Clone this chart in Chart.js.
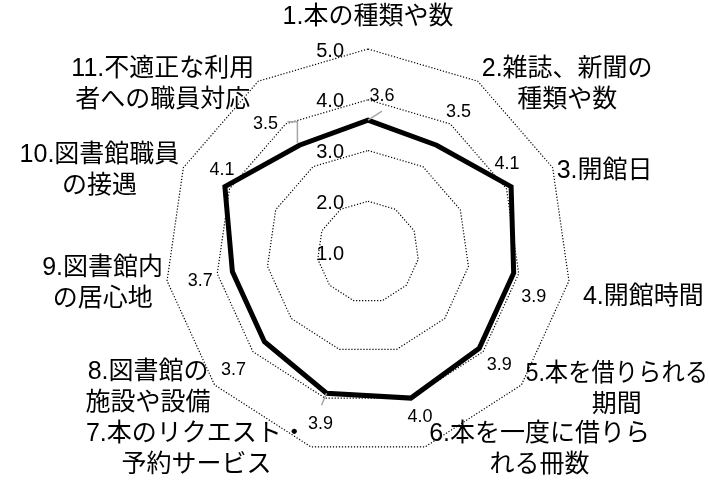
<!DOCTYPE html>
<html lang="ja">
<head>
<meta charset="utf-8">
<script src="https://cdn.jsdelivr.net/npm/chart.js@4.4.1/dist/chart.umd.min.js"></script>
<style>
    html, body { margin: 0; padding: 0; background: #ffffff; }
    #wrap { width: 709px; height: 484px; }
</style>
</head>
<body>
<div id="wrap"><canvas id="radarChart" width="709" height="484"></canvas></div>
<script>
// ===================== DATA =====================

const categories = [
    ['1.本の種類や数'],
    ['2.雑誌、新聞の', '種類や数'],
    ['3.開館日'],
    ['4.開館時間'],
    ['5.本を借りられる', '期間'],
    ['6.本を一度に借りら', 'れる冊数'],
    ['7.本のリクエスト・', '予約サービス'],
    ['8.図書館の', '施設や設備'],
    ['9.図書館内', 'の居心地'],
    ['10.図書館職員', 'の接遇'],
    ['11.不適正な利用', '者への職員対応']
];
const scores = [3.6, 3.5, 4.1, 3.9, 3.9, 4.0, 3.9, 3.7, 3.7, 4.1, 3.5];
const tickLabels = ['1.0', '2.0', '3.0', '4.0', '5.0'];

// ===================== DRAWING HELPERS =====================

const LABEL_FONT = '25px "Liberation Sans", "Noto Sans CJK JP", sans-serif';
const TICK_FONT = '20px "Liberation Sans", Arial, sans-serif';
const VALUE_FONT = '18px "Liberation Sans", Arial, sans-serif';

// where each value label sits, relative to its point
const valueShift = [
    [14, -24], [22, -33], [-4, -23], [20, 24], [20, 17], [9, 19],
    [-6, 31], [-31, 28], [-32, 10], [-3, -17], [-34, -21]
];
// small hand moves of some category labels (as in the original)
const labelNudge = { 3: [10, 13], 4: [0, 2] };

const radarDecor = {
    id: 'radarDecor',
    afterDatasetsDraw(chart) {
        const ctx = chart.ctx;
        const scale = chart.scales.r;
        const meta = chart.getDatasetMeta(0);
        const cx = scale.xCenter;
        const cy = scale.yCenter;

        ctx.save();
        ctx.fillStyle = '#000';

        // scale labels, left of the vertical axis
        ctx.font = TICK_FONT;
        ctx.textAlign = 'right';
        ctx.textBaseline = 'middle';
        tickLabels.forEach(t => {
            const r = scale.getDistanceFromCenterForValue(parseFloat(t));
            ctx.fillText(t, cx - 24, cy - r + 2);
        });

        // category labels around the outer ring
        ctx.font = LABEL_FONT;
        const lineH = 31;
        const W = chart.width;
        categories.forEach((lines, i) => {
            const p = scale.getPointPosition(i, scale.drawingArea);
            const widths = lines.map(l => ctx.measureText(l).width);
            const nudge = labelNudge[i] || [0, 0];
            let blockW = Math.max(...widths);
            let midX;
            if (p.x > cx + 10) {
                const left = p.x + 4 + nudge[0];
                blockW = Math.min(blockW, W - 1 - left);
                midX = left + blockW / 2;
            } else if (p.x < cx - 10) {
                midX = p.x - 4 - blockW / 2 + nudge[0];
            } else {
                midX = p.x;
            }
            let midY = p.y + 3 + nudge[1];
            if (i === 0) midY = p.y - 32;
            ctx.textAlign = 'center';
            ctx.textBaseline = 'middle';
            lines.forEach((l, k) => {
                const y = midY + (k - (lines.length - 1) / 2) * lineH;
                ctx.fillText(l, midX, y, blockW);
            });
        });

        // leader lines
        ctx.strokeStyle = '#a6a6a6';
        ctx.lineWidth = 1.5;
        const p0 = meta.data[0], p6 = meta.data[6], p10 = meta.data[10];
        ctx.beginPath();
        ctx.moveTo(p0.x, p0.y);
        ctx.lineTo(p0.x + 14, p0.y - 9);
        ctx.moveTo(p6.x, p6.y);
        ctx.lineTo(p6.x - 5, p6.y + 12);
        ctx.moveTo(p10.x - 2, p10.y - 2);
        ctx.lineTo(p10.x - 2, p10.y - 23.5);
        ctx.lineTo(p10.x - 12, p10.y - 23.5);
        ctx.stroke();

        // value labels
        ctx.font = VALUE_FONT;
        ctx.textAlign = 'center';
        ctx.textBaseline = 'middle';
        meta.data.forEach((pt, i) => {
            const s = valueShift[i];
            ctx.fillText(scores[i].toFixed(1), pt.x + s[0], pt.y + s[1]);
        });
        ctx.restore();
    }
};

// ===================== CHART =====================

const radarCtx = document.getElementById('radarChart');
new Chart(radarCtx, {
    type: 'radar',
    data: {
        labels: categories,
        datasets: [{
            label: '満足度',
            data: scores,
            borderColor: '#000000',
            backgroundColor: 'rgba(0,0,0,0)',
            borderWidth: 5,
            borderJoinStyle: 'miter',
            fill: false,
            pointRadius: 0,
            pointHoverRadius: 0,
            tension: 0
        }]
    },
    options: {
        responsive: false,
        animation: false,
        devicePixelRatio: 1,
        layout: {
            padding: { left: 165, right: 138, top: 49, bottom: 29 }
        },
        plugins: {
            legend: { display: false },
            tooltip: { enabled: false }
        },
        scales: {
            r: {
                min: parseFloat(tickLabels[0]),
                max: parseFloat(tickLabels[tickLabels.length - 1]),
                ticks: { display: false, stepSize: 1 },
                angleLines: { display: false },
                pointLabels: { display: false },
                grid: { color: '#000000', lineWidth: 1.2 },
                border: { dash: [1.2, 1.8] }
            }
        }
    },
    plugins: [radarDecor]
});
</script>
</body>
</html>
